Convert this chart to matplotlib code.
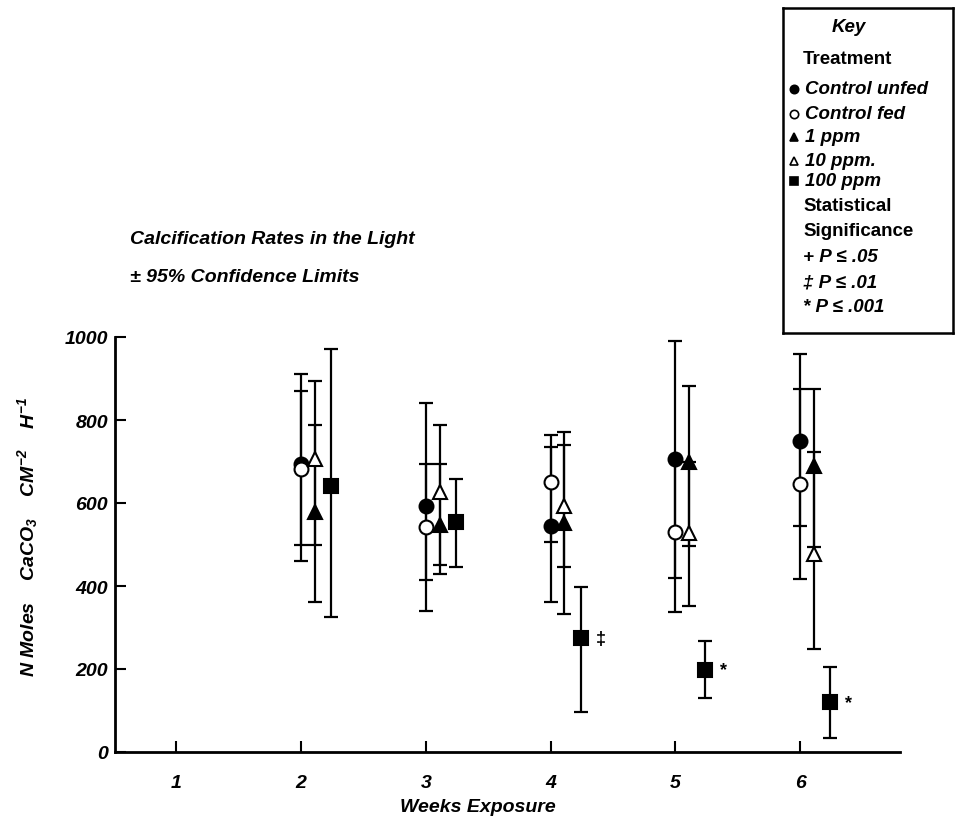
import numpy as np
import matplotlib.pyplot as plt

plt.rcParams['font.family'] = ['Liberation Sans', 'DejaVu Sans']
plt.rcParams['font.weight'] = 'bold'
plt.rcParams['axes.labelweight'] = 'bold'
plt.rcParams['mathtext.fontset'] = 'custom'
plt.rcParams['mathtext.rm'] = 'Liberation Sans:italic:bold'
plt.rcParams['mathtext.it'] = 'Liberation Sans:italic:bold'

weeks = np.array([2, 3, 4, 5, 6])

# mean, lower and upper 95% confidence limit for each treatment
unfed_mean = [695, 592, 544, 705, 749]
unfed_lo = [460, 339, 361, 419, 545]
unfed_hi = [910, 840, 734, 990, 960]

fed_mean = [681, 542, 650, 529, 645]
fed_lo = [498, 414, 505, 337, 418]
fed_hi = [869, 693, 763, 705, 874]

ppm1_mean = [578, 546, 553, 698, 689]
ppm1_lo = [361, 428, 332, 496, 493]
ppm1_hi = [789, 693, 772, 883, 874]

ppm10_mean = [705, 626, 592, 527, 477]
ppm10_lo = [498, 450, 445, 351, 248]
ppm10_hi = [894, 787, 740, 700, 722]

ppm100_mean = [640, 554, 274, 198, 120]
ppm100_lo = [325, 445, 97, 130, 34]
ppm100_hi = [972, 659, 397, 267, 205]

sig_marks = ['', '', '\u2021', '*', '*']

fig = plt.figure(figsize=(9.59, 8.20), dpi=100)
ax = fig.add_axes([115 / 959, 1 - 753 / 820, 785 / 959, 415 / 820])

series = [
    (unfed_mean, unfed_lo, unfed_hi, 0.0, 'o', 'black'),
    (fed_mean, fed_lo, fed_hi, 0.0, 'o', 'white'),
    (ppm1_mean, ppm1_lo, ppm1_hi, 0.11, '^', 'black'),
    (ppm10_mean, ppm10_lo, ppm10_hi, 0.11, '^', 'white'),
    (ppm100_mean, ppm100_lo, ppm100_hi, 0.24, 's', 'black'),
]

for mean, lo, hi, dx, mk, fc in series:
    mean = np.array(mean)
    err = [mean - np.array(lo), np.array(hi) - mean]
    ax.errorbar(weeks + dx, mean, yerr=err, fmt='none', ecolor='black',
                elinewidth=1.6, capsize=5, capthick=1.6, zorder=2)
    ax.plot(weeks + dx, mean, ls='none', marker=mk, ms=10 if mk != 's' else 9.5,
            mfc=fc, mec='black', mew=1.5, zorder=3)

for w, m, s in zip(weeks, ppm100_mean, sig_marks):
    if s:
        ax.text(w + 0.24 + 0.12, m, s, ha='left', va='center', fontsize=13)

ax.set_xlim(0.507, 6.8)
ax.set_ylim(0, 1000)
ax.set_xticks([1, 2, 3, 4, 5, 6])
ax.set_yticks([0, 200, 400, 600, 800, 1000])
ax.spines['top'].set_visible(False)
ax.spines['right'].set_visible(False)
ax.spines['left'].set_linewidth(2)
ax.spines['bottom'].set_linewidth(2)
ax.tick_params(axis='both', direction='in', length=8, width=1.5, labelsize=14)
ax.tick_params(axis='x', pad=16)
ax.tick_params(axis='y', pad=5)
for lab in ax.get_xticklabels() + ax.get_yticklabels():
    lab.set_fontstyle('italic')

ax.set_ylabel('N Moles    CaCO$_3$    CM$^{-2}$    H$^{-1}$', fontsize=14,
              fontstyle='italic')
ax.yaxis.set_label_coords(-0.096, 0.52)
fig.text(478 / 959, 1 - 808 / 820, 'Weeks Exposure', ha='center', va='center',
         fontsize=14, fontstyle='italic')

fig.text(130 / 959, 1 - 240 / 820, 'Calcification Rates in the Light',
         ha='left', va='center', fontsize=14, fontstyle='italic')
fig.text(130 / 959, 1 - 278 / 820, '\u00b1 95% Confidence Limits',
         ha='left', va='center', fontsize=14, fontstyle='italic')

# key box
kx = fig.add_axes([783 / 959, 1 - 334 / 820, 170 / 959, 325 / 820])
kx.set_xlim(0, 170)
kx.set_ylim(325, 0)
kx.set_xticks([])
kx.set_yticks([])
for sp in kx.spines.values():
    sp.set_linewidth(1.8)

kx.text(49, 19, 'Key', fontsize=13.5, fontstyle='italic', va='center')
kx.text(20, 51, 'Treatment', fontsize=13.5, va='center')
key_labels = ['Control unfed', 'Control fed', '1 ppm', '10 ppm.', '100 ppm']
key_markers = ['o', 'o', '^', '^', 's']
key_faces = ['black', 'white', 'black', 'white', 'black']
key_y = [81, 106, 129, 153, 173]
for lab, mk, fc, y in zip(key_labels, key_markers, key_faces, key_y):
    kx.plot([11], [y], marker=mk, ms=6, mfc=fc, mec='black', mew=1.2)
    kx.text(22, y, lab, fontsize=13.5, fontstyle='italic', va='center')
kx.text(20, 198, 'Statistical', fontsize=13.5, va='center')
kx.text(20, 223, 'Significance', fontsize=13.5, va='center')
sig_lines = ['+ P \u2264 .05', '\u2021 P \u2264 .01', '* P \u2264 .001']
for i, s in enumerate(sig_lines):
    kx.text(20, 249 + 25 * i, s, fontsize=13.5, fontstyle='italic', va='center')

fig.savefig('out.png', dpi=100)
